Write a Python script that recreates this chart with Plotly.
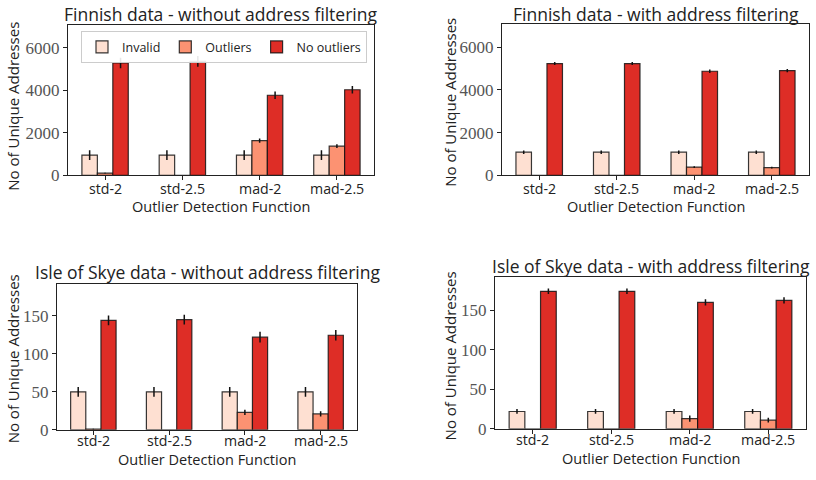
import plotly.graph_objects as go

categories = ["std-2", "std-2.5", "mad-2", "mad-2.5"]
series_names = ["Invalid", "Outliers", "No outliers"]
colors = ["#fee0d2", "#fc9272", "#de2d26"]

# Finnish data - without address filtering
fin_raw_invalid = [950, 950, 950, 950]
fin_raw_outliers = [100, 0, 1630, 1370]
fin_raw_clean = [5290, 5370, 3770, 4030]
fin_raw_invalid_err = [230, 230, 230, 230]
fin_raw_outliers_err = [20, 0, 100, 90]
fin_raw_clean_err = [250, 250, 180, 180]

# Finnish data - with address filtering
fin_flt_invalid = [1080, 1080, 1080, 1080]
fin_flt_outliers = [0, 0, 385, 355]
fin_flt_clean = [5230, 5230, 4870, 4900]
fin_flt_invalid_err = [80, 80, 80, 80]
fin_flt_outliers_err = [0, 0, 40, 40]
fin_flt_clean_err = [70, 70, 80, 80]

# Isle of Skye data - without address filtering
sky_raw_invalid = [50, 50, 50, 50]
sky_raw_outliers = [1, 0, 23, 21]
sky_raw_clean = [144, 145, 122, 124.5]
sky_raw_invalid_err = [6.5, 6.5, 6.5, 6.5]
sky_raw_outliers_err = [0.5, 0, 3.5, 3.5]
sky_raw_clean_err = [6.5, 6.5, 7, 7]

# Isle of Skye data - with address filtering
sky_flt_invalid = [22, 22, 22, 22]
sky_flt_outliers = [0, 0, 13, 11]
sky_flt_clean = [174, 174, 160, 162.5]
sky_flt_invalid_err = [3, 3, 3, 3]
sky_flt_outliers_err = [0, 0, 4, 3]
sky_flt_clean_err = [3.5, 3.5, 4, 4]

titles = [
    "Finnish data - without address filtering",
    "Finnish data - with address filtering",
    "Isle of Skye data - without address filtering",
    "Isle of Skye data - with address filtering",
]

panels = [
    ([fin_raw_invalid, fin_raw_outliers, fin_raw_clean],
     [fin_raw_invalid_err, fin_raw_outliers_err, fin_raw_clean_err]),
    ([fin_flt_invalid, fin_flt_outliers, fin_flt_clean],
     [fin_flt_invalid_err, fin_flt_outliers_err, fin_flt_clean_err]),
    ([sky_raw_invalid, sky_raw_outliers, sky_raw_clean],
     [sky_raw_invalid_err, sky_raw_outliers_err, sky_raw_clean_err]),
    ([sky_flt_invalid, sky_flt_outliers, sky_flt_clean],
     [sky_flt_invalid_err, sky_flt_outliers_err, sky_flt_clean_err]),
]

W, H = 816, 480

def fx(px):
    return px / W

def fy(py):
    return 1 - py / H

# plot boxes in page pixels: (x0, x1, y0_top, y1_bottom)
boxes = [(68, 374, 26, 179), (502, 809, 25, 179), (57, 357, 290, 439), (495, 806, 283, 438)]
yranges = [[0, 7060], [0, 7060], [0, 192], [0, 192]]
ytickvals = [[0, 2000, 4000, 6000], [0, 2000, 4000, 6000], [0, 50, 100, 150], [0, 50, 100, 150]]
title_y = [14, 14, 278, 272]
xtick_y = [192, 192, 450, 449]
xtitle_y = [211, 211, 469, 468]
ylab_x = [13, 450, 13, 450]
ylab_y = [109, 105, 367, 364]

sans = "Open Sans, DejaVu Sans, sans-serif"
serif = "Liberation Serif, DejaVu Serif, serif"

fig = go.Figure()
annotations = []
for i, ((vals, errs), box, yr, tv) in enumerate(zip(panels, boxes, yranges, ytickvals)):
    xa = "x" if i == 0 else f"x{i+1}"
    ya = "y" if i == 0 else f"y{i+1}"
    for s in range(3):
        fig.add_trace(go.Bar(
            x=categories, y=vals[s], name=series_names[s],
            marker=dict(color=colors[s], line=dict(color="rgba(20,20,20,0.85)", width=1.2)),
            error_y=dict(type="data", array=errs[s], visible=True, color="#111", thickness=1.5, width=0),
            xaxis=xa, yaxis=ya, showlegend=(i == 0), offsetgroup=str(s),
        ))
    x0, x1, y0, y1 = box
    axkey = "xaxis" if i == 0 else f"xaxis{i+1}"
    aykey = "yaxis" if i == 0 else f"yaxis{i+1}"
    fig.layout[axkey] = dict(
        domain=[fx(x0), fx(x1)], anchor=ya, range=[-0.48, 3.48],
        showline=True, linecolor="#222", linewidth=1.2, mirror=True,
        ticks="outside", ticklen=4, tickcolor="#222",
        showticklabels=False, showgrid=False,
    )
    fig.layout[aykey] = dict(
        domain=[fy(y1), fy(y0)], anchor=xa, range=yr,
        tickvals=tv, showline=True, linecolor="#222", linewidth=1.2, mirror=True,
        ticks="outside", ticklen=4, tickcolor="#222",
        tickfont=dict(family=serif, size=17, color="#555"), showgrid=False, zeroline=False,
    )
    for c in categories:
        annotations.append(dict(
            text=c, x=c, xref=xa, y=fy(xtick_y[i]), yref="paper",
            showarrow=False, xanchor="center", yanchor="middle",
            font=dict(family=sans, size=14.2, color="#222"),
        ))
    annotations.append(dict(
        text=titles[i], x=fx((x0 + x1) / 2), y=fy(title_y[i]), xref="paper", yref="paper",
        showarrow=False, xanchor="center", yanchor="middle",
        font=dict(family=sans, size=17.5, color="#222"),
    ))
    annotations.append(dict(
        text="Outlier Detection Function", x=fx((x0 + x1) / 2), y=fy(xtitle_y[i]),
        xref="paper", yref="paper", showarrow=False, xanchor="center", yanchor="middle",
        font=dict(family=sans, size=14.5, color="#222"),
    ))
    annotations.append(dict(
        text="No of Unique Addresses", x=fx(ylab_x[i]), y=fy(ylab_y[i]),
        xref="paper", yref="paper", showarrow=False, xanchor="center", yanchor="middle",
        textangle=-90, font=dict(family=sans, size=15, color="#222"),
    ))

fig.update_layout(
    width=W, height=H, margin=dict(l=0, r=0, t=0, b=0),
    plot_bgcolor="white", paper_bgcolor="white",
    barmode="group", bargap=0.4, bargroupgap=0,
    annotations=annotations,
    legend=dict(
        orientation="h", x=fx(367), y=fy(32), xanchor="right", yanchor="top",
        bgcolor="rgba(255,255,255,0.9)", bordercolor="#ccc", borderwidth=1,
        font=dict(family=sans, size=12.5, color="#222"), tracegroupgap=0,
        itemwidth=30,
    ),
)

fig.write_html(
    "out.html",
    config={"displayModeBar": False},
    post_script="document.body.style.margin='0';document.body.style.padding='0';",
)
